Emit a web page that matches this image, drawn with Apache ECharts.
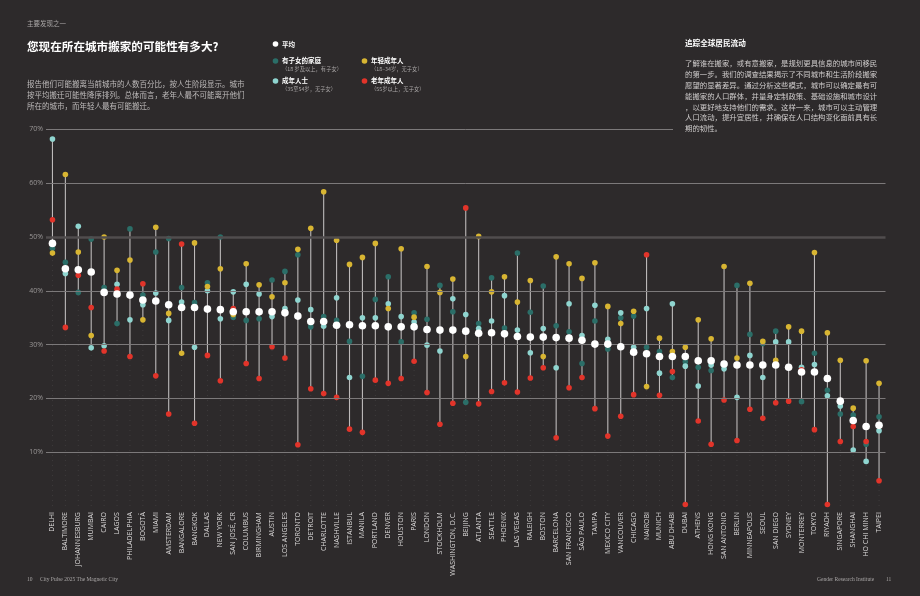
<!DOCTYPE html>
<html><head><meta charset="utf-8">
<script src="https://cdn.jsdelivr.net/npm/echarts@6/dist/echarts.min.js"></script>
<style>html,body{margin:0;padding:0;background:#2d2a2b}#c{width:920px;height:596px}</style>
</head><body><div id="c"></div>
<script>
const categories = ['DELHI','BALTIMORE','JOHANNESBURG','MUMBAI','CAIRO','LAGOS','PHILADELPHIA','BOGOTÁ','MIAMI','AMSTERDAM','BANGALORE','BANGKOK','DALLAS','NEW YORK','SAN JOSÉ, CR','COLUMBUS','BIRMINGHAM','AUSTIN','LOS ANGELES','TORONTO','DETROIT','CHARLOTTE','NASHVILLE','ISTANBUL','MANILA','PORTLAND','DENVER','HOUSTON','PARIS','LONDON','STOCKHOLM','WASHINGTON, D.C.','BEIJING','ATLANTA','SEATTLE','PHOENIX','LAS VEGAS','RALEIGH','BOSTON','BARCELONA','SAN FRANCISCO','SÃO PAULO','TAMPA','MEXICO CITY','VANCOUVER','CHICAGO','NAIROBI','MUNICH','ABU DHABI','DUBAI','ATHENS','HONG KONG','SAN ANTONIO','BERLIN','MINNEAPOLIS','SEOUL','SAN DIEGO','SYDNEY','MONTERREY','TOKYO','RIYADH','SINGAPORE','SHANGHAI','HO CHI MINH','TAIPEI'];
const average = [48.8,44.1,43.9,43.5,39.7,39.4,39.2,38.3,38.1,37.4,36.9,36.9,36.6,36.5,36.1,36.1,36.1,36.1,35.9,35.3,34.3,34.3,33.6,33.7,33.5,33.5,33.3,33.3,33.3,32.8,32.7,32.7,32.5,32.1,32.2,32.0,31.5,31.4,31.4,31.3,31.2,30.8,30.1,30.1,29.6,28.6,28.3,27.8,27.8,27.8,27.0,27.0,26.4,26.2,26.2,26.2,26.2,25.8,24.9,24.9,23.7,19.5,15.9,14.8,15.0];
const families = [47.9,45.3,39.7,49.6,40.6,33.9,51.5,39.2,47.2,49.7,40.6,37.8,41.5,50.0,35.1,34.5,34.8,42.0,43.6,46.7,33.3,35.2,34.5,30.6,24.1,38.4,42.6,30.5,35.9,34.7,41.0,36.1,19.3,33.9,42.4,33.1,47.0,36.0,40.9,33.5,32.4,26.5,34.4,29.2,35.0,35.3,29.5,28.7,23.9,26.8,25.8,25.2,26.4,41.0,31.9,30.2,32.5,25.8,19.4,28.4,21.5,17.1,16.9,11.5,16.6];
const adults = [68.2,43.2,52.0,29.4,29.8,41.2,34.6,37.4,39.6,34.5,37.9,29.5,40.0,34.8,39.8,41.2,39.4,35.2,36.7,38.3,36.5,33.4,38.7,23.9,35.0,35.0,37.6,35.2,34.2,29.9,28.8,38.5,35.6,33.0,34.4,39.1,32.7,28.5,33.0,25.7,37.6,31.7,37.3,31.0,35.9,29.5,36.7,24.7,37.6,26.0,22.3,26.2,25.5,20.2,28.0,23.9,30.5,30.5,25.8,26.3,20.5,18.6,10.4,8.3,14.0];
const youngAdults = [47.0,61.6,47.2,31.7,50.0,43.8,45.7,34.6,51.8,35.8,28.4,48.9,40.8,44.1,35.6,45.0,41.1,38.9,41.5,47.7,51.6,58.4,49.4,44.9,46.2,48.8,36.7,47.8,35.1,44.5,39.7,42.2,27.8,50.1,39.8,42.6,37.9,41.9,27.8,46.3,45.0,42.3,45.2,37.1,33.9,36.2,22.2,31.2,28.7,29.5,34.6,31.1,44.5,27.5,41.4,30.6,27.1,33.3,32.5,47.1,32.2,27.1,18.2,27.0,22.8];
const olderAdults = [53.2,33.2,42.9,36.9,28.8,40.3,27.8,41.3,24.2,17.1,48.7,15.4,28.0,23.3,36.7,26.5,23.7,29.6,27.5,11.4,21.8,20.9,20.2,14.3,13.7,23.4,22.8,23.7,26.9,21.1,15.2,19.1,55.4,19.0,21.3,22.9,21.2,23.8,25.7,12.7,22.0,23.9,18.1,13.0,16.7,20.7,46.7,20.6,25.0,0.3,15.8,11.5,19.7,12.2,18.0,16.3,19.2,19.5,25.3,14.2,0.3,12.0,14.8,12.0,4.7];
const yTicks = [10,20,30,40,50,60,70];

const BG = '#2d2a2b';
const C_FAM = '#2b6e68', C_ADULT = '#8fd5d0', C_YOUNG = '#d8b532', C_OLD = '#e2342a', C_AVG = '#ffffff';
const CJK = '"Noto Sans CJK SC", sans-serif';

const ranges = categories.map((c, i) => {
  const v = [average[i], families[i], adults[i], youngAdults[i], olderAdults[i]];
  return [i, Math.min(...v), Math.max(...v)];
});

function lineItem(stroke, width, dash, fromZero) {
  return function (params, api) {
    const x = api.value(0);
    const a = api.coord([x, fromZero ? 0 : api.value(1)]);
    const b = api.coord([x, fromZero ? api.value(1) : api.value(2)]);
    return { type: 'line', shape: { x1: a[0], y1: a[1], x2: b[0], y2: b[1] },
      style: { stroke: stroke, lineWidth: width, lineDash: dash } };
  };
}

function txt(text, x, y, size, color, weight, family, align) {
  return { type: 'text', z: 100, style: { text: text, x: x, y: y, fill: color, fontSize: size,
    fontWeight: weight || 'normal', fontFamily: family || CJK, align: align || 'left', verticalAlign: 'middle' } };
}
function dot(x, y, r, color) {
  return { type: 'circle', z: 100, shape: { cx: x, cy: y, r: r }, style: { fill: color } };
}

const rightPara = ['了解谁在搬家，或有意搬家，是规划更具信息的城市间移民',
  '的第一步。我们的调查结果揭示了不同城市和生活阶段搬家',
  '愿望的显著差异。通过分析这些模式，城市可以确定最有可',
  '能搬家的人口群体，并量身定制政策、基础设施和城市设计',
  '，以更好地支持他们的需求。这样一来，城市可以主动管理',
  '人口流动，提升宜居性，并确保在人口结构变化面前具有长',
  '期的韧性。'];
const leftPara = ['报告他们可能搬离当前城市的人数百分比，按人生阶段显示。城市',
  '按平均搬迁可能性降序排列。总体而言，老年人最不可能离开他们',
  '所在的城市，而年轻人最有可能搬迁。'];

const graphics = [
  { type: 'rect', z: 90, shape: { x: 673, y: 124, width: 247, height: 10 }, style: { fill: BG } },
  txt('主要发现之一', 27, 24, 6.5, '#a9a6a6'),
  txt('您现在所在城市搬家的可能性有多大?', 27, 47, 11.6, '#ffffff', 'bold'),
  dot(275.5, 44, 2.8, C_AVG), txt('平均', 282, 44.5, 6.5, '#ffffff', 'bold'),
  dot(275.5, 61, 2.8, C_FAM), txt('有子女的家庭', 282, 61, 6.5, '#ffffff', 'bold'),
  txt('（18 岁及以上，有子女）', 282, 68.5, 5.3, '#a9a6a6'),
  dot(275.5, 81, 2.8, C_ADULT), txt('成年人士', 282, 81, 6.5, '#ffffff', 'bold'),
  txt('（35至54岁，无子女）', 282, 88.5, 5.3, '#a9a6a6'),
  dot(364.5, 61, 2.8, C_YOUNG), txt('年轻成年人', 371, 61, 6.5, '#ffffff', 'bold'),
  txt('（18–34岁，无子女）', 371, 68.5, 5.3, '#a9a6a6'),
  dot(364.5, 81, 2.8, C_OLD), txt('老年成年人', 371, 81, 6.5, '#ffffff', 'bold'),
  txt('（55岁以上，无子女）', 371, 88.5, 5.3, '#a9a6a6'),
  txt('追踪全球居民流动', 685, 43.5, 7.6, '#ffffff', 'bold'),
  txt('10', 27, 580, 5.5, '#a9a6a6', 'normal', '"Liberation Serif", serif'),
  txt('City Pulse 2025 The Magnetic City', 40, 580, 5.5, '#a9a6a6', 'normal', '"Liberation Serif", serif'),
  txt('Gender Research Institute', 817, 580, 5.5, '#a9a6a6', 'normal', '"Liberation Serif", serif'),
  txt('11', 886, 580, 5.5, '#a9a6a6', 'normal', '"Liberation Serif", serif')
];
leftPara.forEach((l, k) => graphics.push(txt(l, 27, 84 + k * 11.2, 7.5, '#bdbaba')));
rightPara.forEach((l, k) => graphics.push(txt(l, 685, 63.5 + k * 10.8, 7.4, '#cfcccc')));

const chart = echarts.init(document.getElementById('c'), null, { renderer: 'canvas' });
function scatter(name, data, color, size, z) {
  return { name: name, type: 'scatter', data: data, symbolSize: size, z: z,
    itemStyle: { color: color, opacity: 1 }, silent: true };
}
chart.setOption({
  backgroundColor: BG,
  animation: false,
  grid: { left: 46, right: 34.5, top: 129.3, bottom: 89.9, containLabel: false },
  xAxis: {
    type: 'category', data: categories, boundaryGap: true,
    axisLine: { show: false }, axisTick: { show: false }, splitLine: { show: false },
    axisLabel: { interval: 0, rotate: 90, margin: 6, fontSize: 7, color: '#dcdada', fontFamily: '"Open Sans", sans-serif' }
  },
  yAxis: {
    type: 'value', min: 0, max: 70, interval: 10,
    axisLine: { show: false }, axisTick: { show: false }, splitLine: { show: false },
    axisLabel: { margin: 3, fontSize: 7, color: '#9a9797', fontFamily: '"Open Sans", sans-serif',
      formatter: v => v === 0 ? '' : v + '%' }
  },
  graphic: graphics,
  series: [
    { type: 'scatter', data: [], z: 1, silent: true,
      markLine: { silent: true, symbol: 'none', label: { show: false }, animation: false,
        data: yTicks.map(t => ({ yAxis: t, lineStyle: t === 50 ? { color: '#504d4e', width: 2.5, type: 'solid' } : { color: '#7c797a', width: 1, type: 'solid' } })) } },
    { type: 'custom', data: ranges, z: 2, silent: true, encode: { x: 0, y: [1, 2] },
      renderItem: lineItem('rgba(255,255,255,0.09)', 1, [1, 4], true) },
    { type: 'custom', data: ranges, z: 3, silent: true, encode: { x: 0, y: [1, 2] },
      renderItem: lineItem('#bdbaba', 1.1, null, false) },
    scatter('有子女的家庭', families, C_FAM, 5.6, 4),
    scatter('成年人士', adults, C_ADULT, 5.6, 4),
    scatter('年轻成年人', youngAdults, C_YOUNG, 5.6, 4),
    scatter('老年成年人', olderAdults, C_OLD, 5.6, 4),
    scatter('平均', average, C_AVG, 7.6, 5)
  ]
});
</script></body></html>
